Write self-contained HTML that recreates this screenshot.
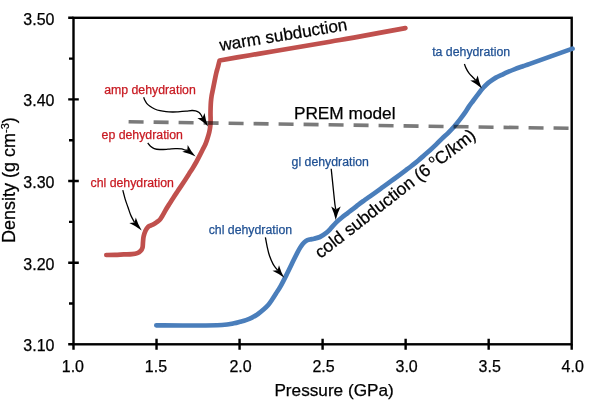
<!DOCTYPE html>
<html><head><meta charset="utf-8"><style>
html,body{margin:0;padding:0;background:#fff;width:600px;height:403px;overflow:hidden;}
svg{display:block;will-change:transform;font-family:"Liberation Sans",sans-serif;}
</style></head><body>
<svg width="600" height="403" viewBox="0 0 600 403">
<rect width="600" height="403" fill="#fff"/>
<rect x="73.50" y="17.80" width="498.20" height="326.50" fill="none" stroke="#000" stroke-width="2.4"/>
<path d="M106.30,255.00 C107.75,254.97 112.08,254.90 115.00,254.80 C117.92,254.70 120.97,254.52 123.80,254.40 C126.63,254.28 129.75,254.32 132.00,254.10 C134.25,253.88 135.87,253.63 137.30,253.10 C138.73,252.57 139.73,251.82 140.60,250.90 C141.47,249.98 142.10,249.08 142.50,247.60 C142.90,246.12 142.82,243.85 143.00,242.00 C143.18,240.15 143.18,238.37 143.60,236.50 C144.02,234.63 144.77,232.38 145.50,230.80 C146.23,229.22 147.08,227.90 148.00,227.00 C148.92,226.10 150.00,225.90 151.00,225.40 C152.00,224.90 153.02,224.57 154.00,224.00 C154.98,223.43 155.93,222.72 156.90,222.00 C157.87,221.28 158.90,220.70 159.80,219.70 C160.70,218.70 161.30,217.67 162.30,216.00 C163.30,214.33 164.60,211.73 165.80,209.70 C167.00,207.67 168.27,205.77 169.50,203.80 C170.73,201.83 171.90,199.92 173.20,197.90 C174.50,195.88 175.93,193.75 177.30,191.70 C178.67,189.65 180.07,187.60 181.40,185.60 C182.73,183.60 184.03,181.65 185.30,179.70 C186.57,177.75 187.75,175.87 189.00,173.90 C190.25,171.93 191.58,169.88 192.80,167.90 C194.02,165.92 195.18,164.00 196.30,162.00 C197.42,160.00 198.47,157.90 199.50,155.90 C200.53,153.90 201.50,151.98 202.50,150.00 C203.50,148.02 204.65,146.00 205.50,144.00 C206.35,142.00 206.97,140.00 207.60,138.00 C208.23,136.00 208.85,134.00 209.30,132.00 C209.75,130.00 210.08,128.00 210.30,126.00 C210.52,124.00 210.57,122.00 210.60,120.00 C210.63,118.00 210.50,116.00 210.50,114.00 C210.50,112.00 210.53,110.00 210.60,108.00 C210.67,106.00 210.73,104.00 210.90,102.00 C211.07,100.00 211.28,98.00 211.60,96.00 C211.92,94.00 212.40,92.00 212.80,90.00 C213.20,88.00 213.60,86.00 214.00,84.00 C214.40,82.00 214.80,79.92 215.20,78.00 C215.60,76.08 215.97,74.25 216.40,72.50 C216.83,70.75 217.38,69.08 217.80,67.50 C218.22,65.92 218.60,64.17 218.90,63.00 C219.20,61.83 219.48,60.92 219.60,60.50  L219.60,60.50 C224.67,59.62 240.97,56.73 250.00,55.20 C259.03,53.67 260.47,53.55 273.80,51.30 C287.13,49.05 316.67,43.98 330.00,41.70 C343.33,39.42 341.23,39.87 353.80,37.60 C366.37,35.33 396.80,29.68 405.40,28.10" fill="none" stroke="#c0504d" stroke-width="4.7" stroke-linecap="round" stroke-linejoin="round"/>
<path d="M156.30,325.30 C161.92,325.33 179.05,325.55 190.00,325.50 C200.95,325.45 214.67,325.37 222.00,325.00 C229.33,324.63 231.00,323.83 234.00,323.30 C237.00,322.77 238.00,322.33 240.00,321.80 C242.00,321.27 244.00,320.80 246.00,320.10 C248.00,319.40 250.00,318.62 252.00,317.60 C254.00,316.58 256.03,315.38 258.00,314.00 C259.97,312.62 262.10,310.80 263.80,309.30 C265.50,307.80 266.83,306.60 268.20,305.00 C269.57,303.40 270.70,301.62 272.00,299.70 C273.30,297.78 274.58,295.72 276.00,293.50 C277.42,291.28 278.68,289.65 280.50,286.40 C282.32,283.15 284.68,278.43 286.90,274.00 C289.12,269.57 292.12,263.23 293.80,259.80 C295.48,256.37 295.97,255.38 297.00,253.40 C298.03,251.42 299.05,249.48 300.00,247.90 C300.95,246.32 301.72,245.05 302.70,243.90 C303.68,242.75 304.68,241.73 305.90,241.00 C307.12,240.27 308.65,239.88 310.00,239.50 C311.35,239.12 312.35,239.12 314.00,238.70 C315.65,238.28 317.92,237.92 319.90,237.00 C321.88,236.08 324.05,234.67 325.90,233.20 C327.75,231.73 329.32,229.97 331.00,228.20 C332.68,226.43 334.18,224.38 336.00,222.60 C337.82,220.82 339.92,219.12 341.90,217.50 C343.88,215.88 345.92,214.42 347.90,212.90 C349.88,211.38 352.03,209.78 353.80,208.40 C355.57,207.02 356.80,205.90 358.50,204.60 C360.20,203.30 362.08,201.97 364.00,200.60 C365.92,199.23 368.00,197.82 370.00,196.40 C372.00,194.98 374.00,193.55 376.00,192.10 C378.00,190.65 380.00,189.17 382.00,187.70 C384.00,186.23 386.00,184.75 388.00,183.30 C390.00,181.85 392.00,180.45 394.00,179.00 C396.00,177.55 398.00,176.08 400.00,174.60 C402.00,173.12 404.00,171.62 406.00,170.10 C408.00,168.58 410.00,167.07 412.00,165.50 C414.00,163.93 416.00,162.37 418.00,160.70 C420.00,159.03 422.00,157.25 424.00,155.50 C426.00,153.75 428.00,152.02 430.00,150.20 C432.00,148.38 434.00,146.53 436.00,144.60 C438.00,142.67 440.00,140.52 442.00,138.60 C444.00,136.68 446.00,135.07 448.00,133.10 C450.00,131.13 452.00,129.08 454.00,126.80 C456.00,124.52 458.17,121.75 460.00,119.40 C461.83,117.05 463.50,114.87 465.00,112.70 C466.50,110.53 467.67,108.35 469.00,106.40 C470.33,104.45 471.70,102.75 473.00,101.00 C474.30,99.25 475.55,97.57 476.80,95.90 C478.05,94.23 479.38,92.40 480.50,91.00 C481.62,89.60 482.50,88.60 483.50,87.50 C484.50,86.40 485.43,85.38 486.50,84.40 C487.57,83.42 488.33,82.73 489.90,81.60 C491.47,80.47 493.92,78.73 495.90,77.60 C497.88,76.47 499.88,75.70 501.80,74.80 C503.72,73.90 505.22,73.15 507.40,72.20 C509.58,71.25 512.42,70.05 514.90,69.10 C517.38,68.15 519.82,67.37 522.30,66.50 C524.78,65.63 521.43,66.88 529.80,63.90 C538.17,60.92 565.38,51.15 572.50,48.60" fill="none" stroke="#4a7ebb" stroke-width="4.7" stroke-linecap="round" stroke-linejoin="round"/>
<path d="M128.6,121.8 L568.9,128.3" stroke="#000" stroke-opacity="0.52" stroke-width="3.6" stroke-dasharray="15 10" fill="none"/>
<path d="M73.50,344.30 L73.50,349.80 M156.53,338.80 L156.53,349.80 M239.57,338.80 L239.57,349.80 M322.60,338.80 L322.60,349.80 M405.63,338.80 L405.63,349.80 M488.67,338.80 L488.67,349.80 M571.70,344.30 L571.70,349.80 M68.20,17.80 L73.50,17.80 M69.00,58.61 L73.50,58.61 M68.20,99.42 L78.80,99.42 M69.00,140.24 L73.50,140.24 M68.20,181.05 L78.80,181.05 M69.00,221.86 L73.50,221.86 M68.20,262.68 L78.80,262.68 M69.00,303.49 L73.50,303.49 M68.20,344.30 L73.50,344.30" stroke="#000" stroke-width="2.4" fill="none"/>
<text x="54.5" y="24.80" font-family="Liberation Sans, sans-serif" font-size="16" text-anchor="end" fill="#000" stroke="#000" stroke-width="0.25">3.50</text>
<text x="54.5" y="106.42" font-family="Liberation Sans, sans-serif" font-size="16" text-anchor="end" fill="#000" stroke="#000" stroke-width="0.25">3.40</text>
<text x="54.5" y="188.05" font-family="Liberation Sans, sans-serif" font-size="16" text-anchor="end" fill="#000" stroke="#000" stroke-width="0.25">3.30</text>
<text x="54.5" y="269.68" font-family="Liberation Sans, sans-serif" font-size="16" text-anchor="end" fill="#000" stroke="#000" stroke-width="0.25">3.20</text>
<text x="54.5" y="351.30" font-family="Liberation Sans, sans-serif" font-size="16" text-anchor="end" fill="#000" stroke="#000" stroke-width="0.25">3.10</text>
<text x="72.90" y="371.5" font-family="Liberation Sans, sans-serif" font-size="16" text-anchor="middle" fill="#000" stroke="#000" stroke-width="0.25">1.0</text>
<text x="155.93" y="371.5" font-family="Liberation Sans, sans-serif" font-size="16" text-anchor="middle" fill="#000" stroke="#000" stroke-width="0.25">1.5</text>
<text x="240.57" y="371.5" font-family="Liberation Sans, sans-serif" font-size="16" text-anchor="middle" fill="#000" stroke="#000" stroke-width="0.25">2.0</text>
<text x="323.60" y="371.5" font-family="Liberation Sans, sans-serif" font-size="16" text-anchor="middle" fill="#000" stroke="#000" stroke-width="0.25">2.5</text>
<text x="406.63" y="371.5" font-family="Liberation Sans, sans-serif" font-size="16" text-anchor="middle" fill="#000" stroke="#000" stroke-width="0.25">3.0</text>
<text x="489.67" y="371.5" font-family="Liberation Sans, sans-serif" font-size="16" text-anchor="middle" fill="#000" stroke="#000" stroke-width="0.25">3.5</text>
<text x="572.70" y="371.5" font-family="Liberation Sans, sans-serif" font-size="16" text-anchor="middle" fill="#000" stroke="#000" stroke-width="0.25">4.0</text>
<text x="334.1" y="396.1" font-family="Liberation Sans, sans-serif" font-size="17.2" text-anchor="middle" fill="#000" stroke="#000" stroke-width="0.25">Pressure (GPa)</text>
<text transform="translate(15.3,180.1) rotate(-90)" font-family="Liberation Sans, sans-serif" font-size="18" text-anchor="middle" fill="#000" stroke="#000" stroke-width="0.25">Density (g cm<tspan dy="-6" font-size="11">-3</tspan><tspan dy="6">)</tspan></text>
<text transform="translate(220.4,50.9) rotate(-9.3)" font-family="Liberation Sans, sans-serif" font-size="17.1" fill="#000" stroke="#000" stroke-width="0.25">warm subduction</text>
<text x="293.9" y="118.5" font-family="Liberation Sans, sans-serif" font-size="17.25" fill="#000" stroke="#000" stroke-width="0.25">PREM model</text>
<text transform="translate(320.5,259.1) rotate(-37.9)" font-family="Liberation Sans, sans-serif" font-size="17.4" fill="#000" stroke="#000" stroke-width="0.25">cold subduction (6 <tspan dy="-7.5" font-size="10.5">o</tspan><tspan dy="7.5">C/km)</tspan></text>
<text x="104.2" y="93.6" font-family="Liberation Sans, sans-serif" font-size="12.3" fill="#c81a22" stroke="#c81a22" stroke-width="0.25">amp dehydration</text>
<text x="101.6" y="138.8" font-family="Liberation Sans, sans-serif" font-size="12.3" fill="#c81a22" stroke="#c81a22" stroke-width="0.25">ep dehydration</text>
<text x="90.5" y="186.7" font-family="Liberation Sans, sans-serif" font-size="12.3" fill="#c81a22" stroke="#c81a22" stroke-width="0.25">chl dehydration</text>
<text x="208.7" y="234.4" font-family="Liberation Sans, sans-serif" font-size="12.3" fill="#1f5093" stroke="#1f5093" stroke-width="0.25">chl dehydration</text>
<text x="291.6" y="166.1" font-family="Liberation Sans, sans-serif" font-size="12.3" fill="#1f5093" stroke="#1f5093" stroke-width="0.25">gl dehydration</text>
<text x="432.2" y="55.9" font-family="Liberation Sans, sans-serif" font-size="12.3" fill="#1f5093" stroke="#1f5093" stroke-width="0.25">ta dehydration</text>
<path d="M143.70,97.30 C143.87,97.75 144.20,99.00 144.70,100.00 C145.20,101.00 145.82,102.25 146.70,103.30 C147.58,104.35 148.67,105.35 150.00,106.30 C151.33,107.25 153.03,108.27 154.70,109.00 C156.37,109.73 158.12,110.25 160.00,110.70 C161.88,111.15 163.88,111.48 166.00,111.70 C168.12,111.92 170.70,111.98 172.70,112.00 C174.70,112.02 175.78,111.93 178.00,111.80 C180.22,111.67 183.67,111.42 186.00,111.20 C188.33,110.98 190.40,110.55 192.00,110.50 C193.60,110.45 194.42,110.57 195.60,110.90 C196.78,111.23 198.15,111.77 199.10,112.50 C200.05,113.23 200.73,114.40 201.30,115.30 C201.87,116.20 202.32,117.48 202.52,117.92" fill="none" stroke="#000" stroke-width="1.30"/><path d="M197.40,117.90 Q203.50,121.70 208.10,126.50 Q205.55,120.30 204.50,113.10 L202.52,117.92 Z" fill="#000"/>
<path d="M147.75,143.00 C148.21,143.55 149.43,145.37 150.50,146.30 C151.57,147.23 152.67,148.07 154.20,148.60 C155.73,149.13 157.42,149.40 159.70,149.50 C161.98,149.60 165.30,149.35 167.90,149.20 C170.50,149.05 173.00,148.67 175.30,148.60 C177.60,148.53 180.15,148.58 181.70,148.80 C183.25,149.02 183.67,149.67 184.60,149.90 C185.53,150.13 186.84,150.12 187.29,150.17" fill="none" stroke="#000" stroke-width="1.30"/><path d="M182.20,151.80 Q189.46,153.50 195.60,156.60 Q191.09,151.45 187.70,144.90 L187.29,150.17 Z" fill="#000"/>
<path d="M122.80,190.20 C123.23,191.82 124.53,197.05 125.40,199.90 C126.27,202.75 127.13,204.82 128.00,207.30 C128.87,209.78 129.78,212.78 130.60,214.80 C131.42,216.82 132.24,218.12 132.90,219.40 C133.56,220.68 134.29,221.95 134.56,222.47" fill="none" stroke="#000" stroke-width="1.30"/><path d="M129.30,223.00 Q136.18,226.16 141.70,230.50 Q138.07,224.54 135.80,217.40 L134.56,222.47 Z" fill="#000"/>
<path d="M265.40,237.40 C265.68,238.88 266.42,243.23 267.10,246.30 C267.78,249.37 268.50,252.83 269.50,255.80 C270.50,258.77 272.03,262.05 273.10,264.10 C274.17,266.15 275.15,267.09 275.90,268.10 C276.65,269.11 277.32,269.81 277.61,270.16" fill="none" stroke="#000" stroke-width="1.30"/><path d="M272.50,270.70 Q279.04,273.67 284.20,277.80 Q280.91,272.13 279.00,265.30 L277.61,270.16 Z" fill="#000"/>
<path d="M331.20,168.70 C331.57,172.25 332.77,183.95 333.40,190.00 C334.03,196.05 334.58,201.76 335.00,205.00 C335.42,208.24 335.75,208.68 335.89,209.41" fill="none" stroke="#000" stroke-width="1.30"/><path d="M331.20,206.40 Q334.35,213.25 335.70,220.10 Q337.30,213.25 340.70,206.40 L335.89,209.41 Z" fill="#000"/>
<path d="M464.40,63.90 C464.65,64.57 465.17,66.40 465.90,67.90 C466.63,69.40 467.65,71.33 468.80,72.90 C469.95,74.47 471.65,76.08 472.80,77.30 C473.95,78.52 475.23,79.74 475.72,80.23" fill="none" stroke="#000" stroke-width="1.30"/><path d="M470.25,80.40 Q476.82,83.95 481.90,88.50 Q479.05,82.45 477.70,75.40 L475.72,80.23 Z" fill="#000"/>
</svg>
</body></html>
